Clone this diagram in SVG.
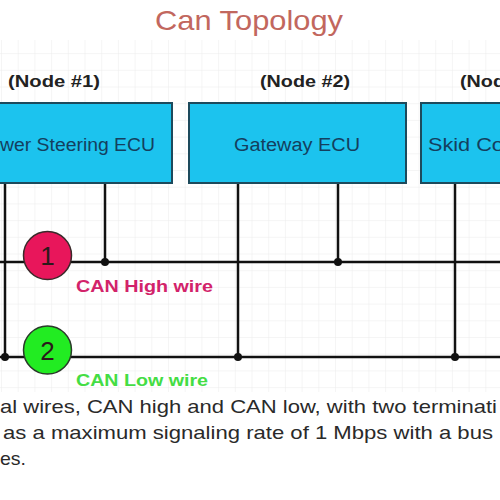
<svg xmlns="http://www.w3.org/2000/svg" width="500" height="500" viewBox="0 0 500 500">
<style>
  text { font-family: "Liberation Sans", Arial, sans-serif; }
  .box { fill: #1cc3ee; stroke: #1d4a5c; stroke-width: 2; }
  .boxtxt { font-size: 18px; fill: #143f5e; }
  .nodelbl { font-size: 17px; font-weight: bold; fill: #222; }
  .wire { stroke: #111; stroke-width: 2.5; fill: none; }
  .dot { fill: #111; }
  .body { font-size: 19px; fill: #2a2a2a; }
  .num { font-size: 26px; fill: #2a1a1a; text-anchor: middle; }
</style>
<defs>
  <pattern id="grid" width="16.7" height="16.7" patternUnits="userSpaceOnUse" x="2" y="4">
    <path d="M16.7 0 V16.7 M0 16.7 H16.7" fill="none" stroke="#ececec" stroke-width="1"/>
  </pattern>
</defs>
<rect x="0" y="0" width="500" height="500" fill="#ffffff"/>
<rect x="0" y="40" width="500" height="352" fill="url(#grid)"/>

<text x="249" y="30" font-size="28" fill="#c2675e" text-anchor="middle" textLength="188" lengthAdjust="spacingAndGlyphs">Can Topology</text>

<g id="connectors">
  <line class="wire" x1="0" y1="262" x2="500" y2="262"/>
  <line class="wire" x1="0" y1="357" x2="500" y2="357"/>
  <line class="wire" x1="5" y1="183" x2="5" y2="357"/>
  <line class="wire" x1="105" y1="183" x2="105" y2="262"/>
  <line class="wire" x1="238" y1="183" x2="238" y2="357"/>
  <line class="wire" x1="338" y1="183" x2="338" y2="262"/>
  <line class="wire" x1="455" y1="183" x2="455" y2="357"/>
  <circle class="dot" cx="105" cy="262" r="4"/>
  <circle class="dot" cx="338" cy="262" r="4"/>
  <circle class="dot" cx="5" cy="357" r="4"/>
  <circle class="dot" cx="238" cy="357" r="4"/>
  <circle class="dot" cx="455" cy="357" r="4"/>
</g>

<g id="node1">
  <text class="nodelbl" x="8" y="87" textLength="92" lengthAdjust="spacingAndGlyphs">(Node #1)</text>
  <rect class="box" x="-70" y="103" width="242" height="80"/>
  <text class="boxtxt" x="0" y="151" textLength="155" lengthAdjust="spacingAndGlyphs">wer Steering ECU</text>
</g>

<g id="node2">
  <text class="nodelbl" x="260" y="87" textLength="90" lengthAdjust="spacingAndGlyphs">(Node #2)</text>
  <rect class="box" x="189" y="103" width="217" height="80"/>
  <text class="boxtxt" x="234" y="151" textLength="126" lengthAdjust="spacingAndGlyphs">Gateway ECU</text>
</g>

<g id="node3">
  <text class="nodelbl" x="460" y="87" textLength="45" lengthAdjust="spacingAndGlyphs">(Nod</text>
  <rect class="box" x="421" y="103" width="120" height="80"/>
  <text class="boxtxt" x="428" y="151" textLength="88" lengthAdjust="spacingAndGlyphs">Skid Con</text>
</g>

<g id="canhigh">
  <circle cx="47.5" cy="255.5" r="24" fill="#e8165b" stroke="#3a2a2a" stroke-width="1.5"/>
  <text class="num" x="47.5" y="265">1</text>
  <text x="76" y="292" font-size="17" font-weight="bold" fill="#d2236a" textLength="137" lengthAdjust="spacingAndGlyphs">CAN High wire</text>
</g>

<g id="canlow">
  <circle cx="47.5" cy="350" r="24" fill="#22ec22" stroke="#2a3a2a" stroke-width="1.5"/>
  <text class="num" x="47.5" y="359.5">2</text>
  <text x="76" y="386" font-size="17" font-weight="bold" fill="#44dd44" textLength="132" lengthAdjust="spacingAndGlyphs">CAN Low wire</text>
</g>

<text class="body" x="0" y="413" textLength="497" lengthAdjust="spacingAndGlyphs">al wires, CAN high and CAN low, with two terminati</text>
<text class="body" x="3" y="439" textLength="490" lengthAdjust="spacingAndGlyphs">as a maximum signaling rate of 1 Mbps with a bus</text>
<text class="body" x="0" y="465" textLength="26" lengthAdjust="spacingAndGlyphs">es.</text>
</svg>
